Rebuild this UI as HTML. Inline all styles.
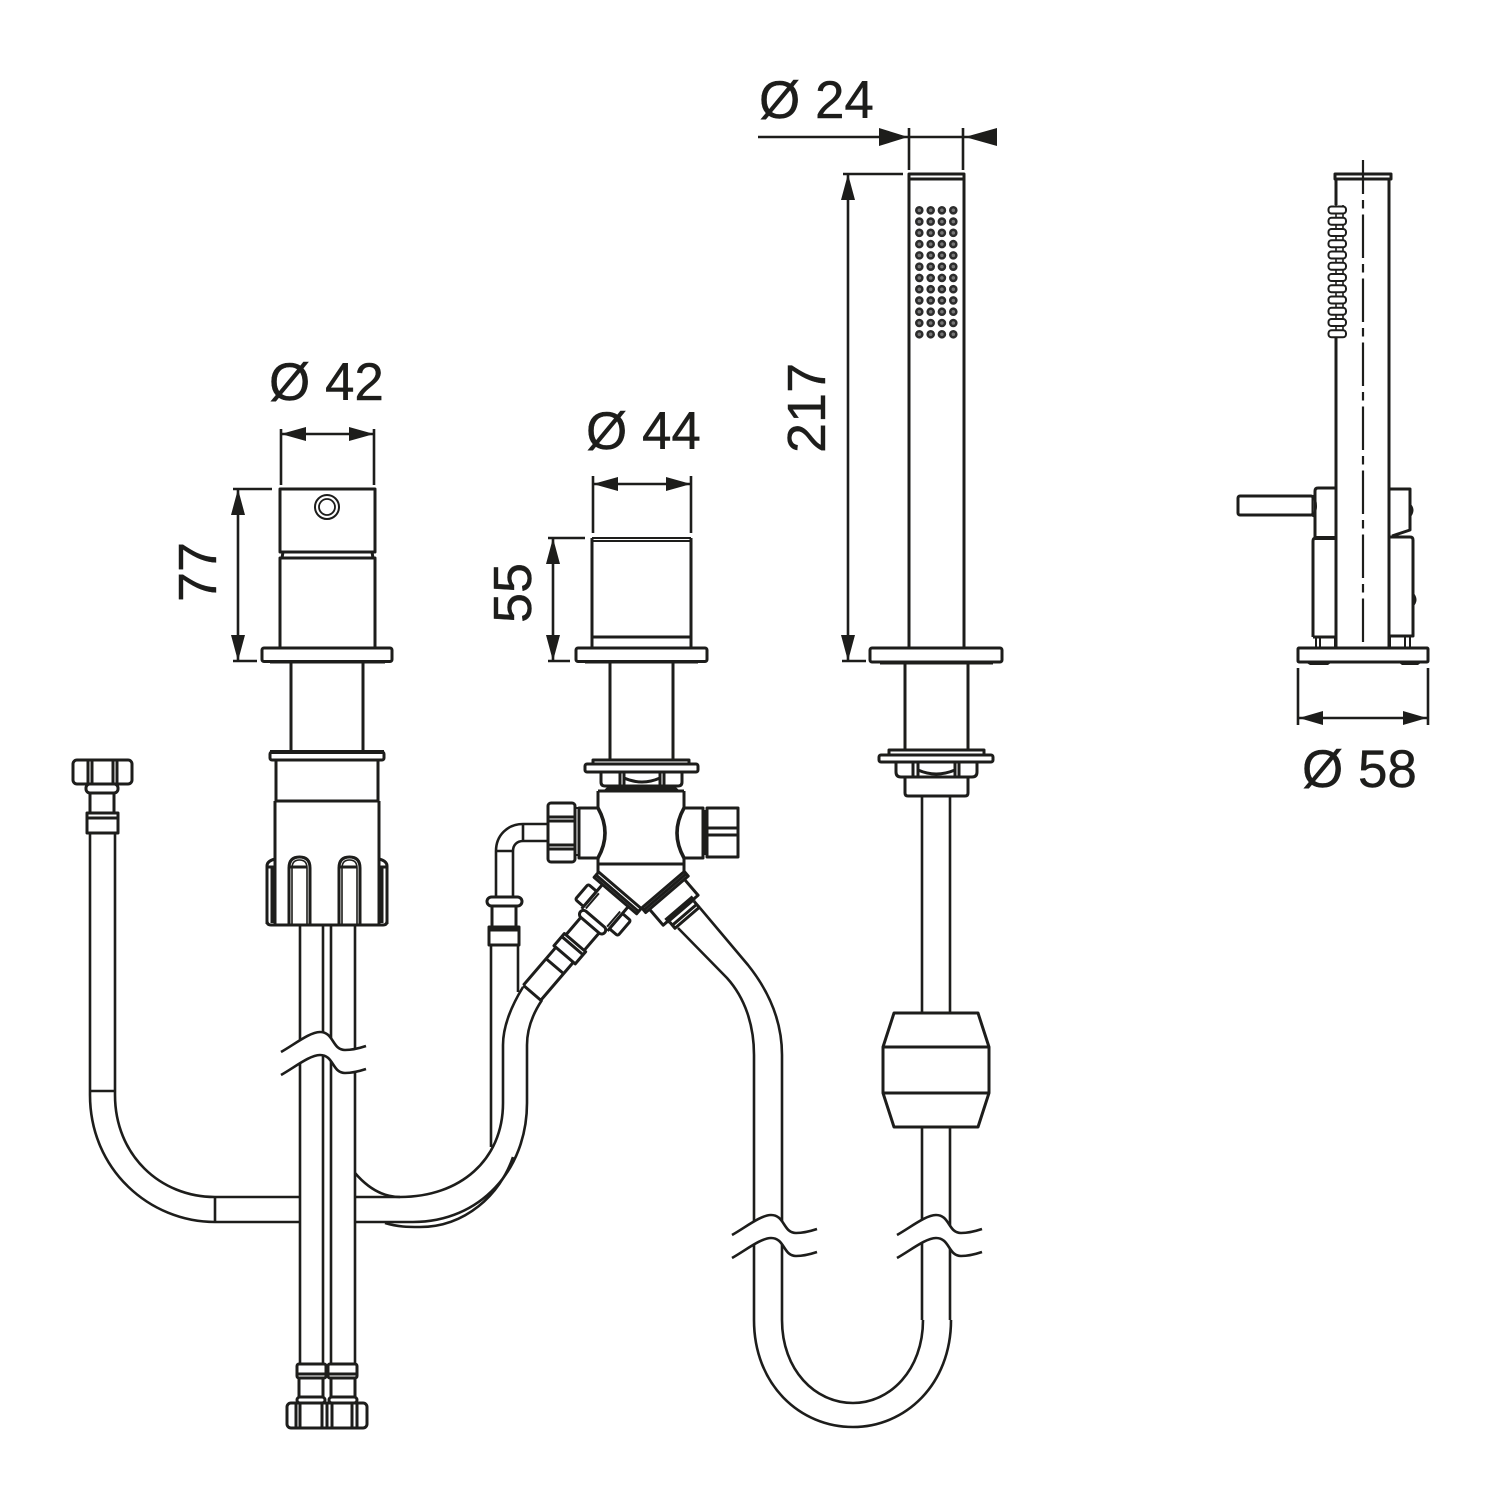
<!DOCTYPE html>
<html><head><meta charset="utf-8"><style>
html,body{margin:0;padding:0;background:#fff}
svg{display:block}
text{font-family:"Liberation Sans",sans-serif;font-size:53px;fill:#1d1d1b;stroke:#1d1d1b;stroke-width:.4}
.l{fill:none;stroke:#1d1d1b;stroke-width:2.6;stroke-linejoin:round}
.w{fill:#fff;stroke:#1d1d1b;stroke-width:2.3;stroke-linejoin:round}
.t{fill:none;stroke:#1d1d1b;stroke-width:3;stroke-linejoin:round}
.k{fill:#1d1d1b;stroke:none}
</style></head><body>
<svg width="1500" height="1500" viewBox="0 0 1500 1500" xmlns="http://www.w3.org/2000/svg">
<rect width="1500" height="1500" fill="#fff"/>
<text x="269" y="400">Ø 42</text>
<text x="586" y="449">Ø 44</text>
<text x="759" y="118">Ø 24</text>
<text x="1302" y="787">Ø 58</text>
<text transform="translate(216,602) rotate(-90)" style="font-size:54px">77</text>
<text transform="translate(531,623) rotate(-90)" style="font-size:54px">55</text>
<text transform="translate(825,453) rotate(-90)" style="font-size:54px">217</text>

<!-- dimension lines -->
<g class="l">
<path d="M281,429V485M374,429V485M281,434H374"/>
<path d="M233,489H272M233,661H257M238,489V661"/>
<path d="M593,476V533M691,476V533M593,484H691"/>
<path d="M548,538H585M548,661H570M553,538V661"/>
<path d="M758,137H997M909,128V170M963,128V170"/>
<path d="M843,174H903M842,661H866M848,174V661"/>
<path d="M1298,668V725M1428,668V725M1298,718H1428"/>
</g>
<g class="k">
<path d="M281,434L306,427V441ZM374,434L349,427V441Z"/>
<path d="M238,489L231,515H245ZM238,661L231,635H245Z"/>
<path d="M593,484L618,477V491ZM691,484L666,477V491Z"/>
<path d="M553,538L546,564H560ZM553,661L546,635H560Z"/>
<path d="M908,137L879,128V146ZM965,137L997,128V146Z"/>
<path d="M848,174L841,200H855ZM848,661L841,635H855Z"/>
<path d="M1299,718L1323,711V725ZM1427,718L1403,711V725Z"/>
</g>

<!-- LEFT HOSE -->
<g class="l">
<path d="M355,1173C367,1187 382,1197 400,1197"/>
<path d="M385,1223C398,1227 408,1227 420,1227C465,1227 500,1195 513,1157"/>
<path d="M491,945V1147"/>
<path d="M518,945V992"/>
<path d="M90,833V1095C90,1170 150,1222 215,1222H300"/>
<path d="M115,833V1095C115,1155 160,1197 215,1197H300"/>
<path d="M90,1091H115M215,1197V1222"/>
<path d="M355,1197H400C460,1197 503,1160 503,1103V1045C503,1025 512,1005 523,987"/>
<path d="M355,1222H413C480,1222 527,1170 527,1103V1045C527,1028 534,1012 542,1000"/>
</g>
<!-- left top fitting -->
<g class="t">
<rect x="73" y="760" width="59" height="24" rx="4"/>
<path d="M88,760V784M92,760V784M113,760V784M117,760V784"/>
<rect x="86" y="784" width="32" height="9" rx="4"/>
<path d="M90,793V813M114,793V813"/>
<rect x="87" y="813" width="31" height="20"/>
<path d="M87,818H118"/>
</g>

<!-- PIPES -->
<g class="l">
<path d="M300,925V1364M323,925V1364M331,925V1364M355,925V1364"/>
</g>
<g class="t">
<rect x="297" y="1364" width="29" height="14" rx="2"/>
<rect x="328" y="1364" width="29" height="14" rx="2"/>
<path d="M297,1374H326M328,1374H357"/>
<path d="M299,1378V1397M323,1378V1397M331,1378V1397M355,1378V1397"/>
<rect x="297" y="1397" width="28" height="6" rx="3"/>
<rect x="329" y="1397" width="28" height="6" rx="3"/>
<rect x="287" y="1403" width="80" height="25" rx="4"/>
<path d="M296,1403V1428M300,1403V1428M322,1403V1428M327,1403V1428M332,1403V1428M352,1403V1428M357,1403V1428"/>
</g>

<!-- LEFT VALVE -->
<g class="t">
<rect x="280" y="489" width="95" height="63"/>
<path d="M283,552L282,558M372,552L373,558"/>
<rect x="280" y="558" width="95" height="90"/>
<circle cx="327" cy="507" r="12" stroke-width="2"/>
<circle cx="327" cy="507" r="8" stroke-width="1.8"/>
<rect x="262" y="648" width="130" height="13.5" rx="2"/>
<path d="M270,662H385" />
<path d="M291,662V751M363,662V751"/>
<rect x="270" y="752" width="114" height="8" rx="2"/>
<path d="M270,752H384" stroke-width="4"/>
<path d="M276,760V801M378,760V801M276,801H378"/>
<path d="M275,801V924M379,801V924"/>
<path d="M267,924V866Q267,861 275,859M387,924V866Q387,861 379,859"/>
<path d="M267,867H275M379,867H387M272,867V923M382,867V923"/>
<path d="M267,921Q267,925 271,925H383Q387,925 387,921"/>
<path d="M289,924V868Q289,857 299.500,857Q310,857 310,868V924" />
<path d="M292,924V868Q292,860 299.500,860Q307,860 307,868V924" stroke-width="1.6"/>
<path d="M289,867H307"/>
<path d="M339,924V868Q339,857 349.500,857Q360,857 360,868V924"/>
<path d="M342,924V868Q342,860 349.500,860Q357,860 357,868V924" stroke-width="1.6"/>
<path d="M339,867H357"/>
</g>

<!-- CENTER VALVE -->
<g class="t">
<path d="M592,538H691M592,541H691" stroke-width="2"/>
<path d="M592,538V648M691,538V648M592,637H691"/>
<rect x="576" y="648" width="131" height="13.5" rx="2"/>
<path d="M585,662H698"/>
<path d="M610,662V760M673,662V760"/>
<rect x="593" y="760" width="96" height="4"/>
<rect x="585" y="764" width="113" height="8" rx="2"/>
<path d="M601,772V782Q601,786 605,786H678Q682,786 682,782V772"/>
<path d="M620,772V786M624,772V786M660,772V786M664,772V786"/>
<path d="M624,778Q642,786 660,778"/>
</g>
<path class="k" d="M603,792Q606,786 612,786H671Q677,786 680,792Z"/>
<g class="t">
<path d="M598,791H684M598,791V808M684,791V808M598,858V872M684,858V872M598,864H684"/>
<path d="M579,808H598Q612,833 598,858H579Z" fill="#fff"/>
<path d="M598,808Q612,833 598,858" stroke-width="3.6"/>
<path d="M703,808H684Q670,833 684,858H703Z"/>
<path d="M684,808Q670,833 684,858" stroke-width="3.6"/>
<path d="M575,808H579V855H575Z" stroke-width="2"/>
<rect x="548" y="803" width="27" height="59" rx="3"/>
<path d="M548,817H575M548,821H575M548,845H575M548,849H575"/>
<path d="M704,810V855"/>
<rect x="707" y="808" width="31" height="49"/>
<path d="M707,828H738M707,835H738"/>
</g>
<!-- elbow -->
<g class="l">
<path d="M548,824H523C508,824 496,835 496,851V897"/>
<path d="M548,841H523C517,841 513,845 513,851V897"/>
<path d="M523,824V841M496,851H513"/>
</g>
<g class="t">
<rect x="487" y="897" width="35" height="9" rx="4.500"/>
<path d="M492,906V927M516,906V927"/>
<rect x="489" y="927" width="30" height="18"/>
<path d="M489,930H519"/>
</g>
<!-- left branch -->
<g transform="translate(603,910) rotate(40.600)" class="t">
<path d="M-17,-19V13M17,-19V13"/>
<rect x="-28" y="-26" width="56" height="7"/>
<path d="M-28,-22H28"/>
<rect x="-28" y="-10" width="11" height="20" rx="2"/>
<rect x="17" y="-10" width="11" height="20" rx="2"/>
<path d="M-14,-10V10M14,-10V10" stroke-width="2"/>
<rect x="-16" y="12" width="32" height="8" rx="4"/>
<path d="M-12,20V43M12,20V43"/>
<rect x="-14" y="43" width="28" height="16"/>
<path d="M-14,47H14"/>
<path d="M-11.500,59V109M11.500,59V109M-11.500,74H11.500M-11.500,109H11.500"/>
</g>
<!-- right branch -->
<g transform="translate(665,892) rotate(-40.600)" class="t">
<rect x="-28" y="-3" width="56" height="6"/>
<path d="M-28,0H28"/>
<path d="M-23,3V24H23V3"/>
<rect x="-18" y="20" width="36" height="6" fill="#1d1d1b" stroke="none"/>
<path d="M-16,26V34H16V26M-16,30H16"/>
</g>
<g class="l">
<path d="M678,928L727,978C745,998 754,1025 754,1055V1320"/>
<path d="M700,908L748,965C768,990 782,1020 782,1055V1320"/>
<path d="M754,1320C754,1385 800,1427 853,1427C905,1427 951,1385 951,1320"/>
<path d="M782,1320C782,1370 815,1403 853,1403C890,1403 923,1370 923,1320"/>
</g>

<!-- HANDSET -->
<g class="t">
<rect x="909" y="174" width="55" height="5"/>
<path d="M909,179V648M964,179V648"/>
<rect x="870" y="648" width="132" height="14" rx="2"/>
<path d="M880,663H993"/>
<path d="M905,662V750M968,662V750"/>
<rect x="889" y="750" width="95" height="5"/>
<rect x="879" y="755" width="114" height="7" rx="2"/>
<path d="M896,762V772Q896,777 901,777H972Q977,777 977,772V762"/>
<path d="M913,762V777M918,762V777M955,762V777M959,762V777"/>
<path d="M918,770Q936,778 955,770"/>
<path d="M905,777V793Q905,796 908,796H965Q968,796 968,793V777"/>
</g>
<path d="M919.300,210.300V336M930.700,210.300V336M941.900,210.300V336M953.300,210.300V336" fill="none" stroke="#2c2c2c" stroke-width="8.600" stroke-linecap="round" stroke-dasharray="0 11.270"/>
<path d="M919.300,210.300V336M930.700,210.300V336M941.900,210.300V336M953.300,210.300V336" fill="none" stroke="#777" stroke-width="3.500" stroke-linecap="round" stroke-dasharray="0 11.270"/>
<g class="l">
<path d="M922,796V1013M950,796V1013M922,1127V1320M950,1127V1320"/>
</g>
<g class="t">
<path d="M894,1013H978L989,1047V1093L978,1127H894L883,1093V1047Z"/>
<path d="M883,1047H989M883,1093H989"/>
</g>

<!-- BREAK SQUIGGLES -->
<g transform="translate(281,1052)">
<path d="M0,0C14,-8 29,-20 39,-20C53,-20 51,-2 64,-2C72,-2 79,-4 85,-6L85,17C79,19 72,21 64,21C51,21 53,3 39,3C29,3 14,15 0,23Z" fill="#fff"/>
<path class="l" d="M0,0C14,-8 29,-20 39,-20C53,-20 51,-2 64,-2C72,-2 79,-4 85,-6M0,23C14,15 29,3 39,3C53,3 51,21 64,21C72,21 79,19 85,17"/>
</g>
<g transform="translate(732,1235)">
<path d="M0,0C14,-8 29,-20 39,-20C53,-20 51,-2 64,-2C72,-2 79,-4 85,-6L85,17C79,19 72,21 64,21C51,21 53,3 39,3C29,3 14,15 0,23Z" fill="#fff"/>
<path class="l" d="M0,0C14,-8 29,-20 39,-20C53,-20 51,-2 64,-2C72,-2 79,-4 85,-6M0,23C14,15 29,3 39,3C53,3 51,21 64,21C72,21 79,19 85,17"/>
</g>
<g transform="translate(897,1235)">
<path d="M0,0C14,-8 29,-20 39,-20C53,-20 51,-2 64,-2C72,-2 79,-4 85,-6L85,17C79,19 72,21 64,21C51,21 53,3 39,3C29,3 14,15 0,23Z" fill="#fff"/>
<path class="l" d="M0,0C14,-8 29,-20 39,-20C53,-20 51,-2 64,-2C72,-2 79,-4 85,-6M0,23C14,15 29,3 39,3C53,3 51,21 64,21C72,21 79,19 85,17"/>
</g>

<!-- SIDE VIEW -->
<g class="t">
<rect x="1335" y="174" width="56" height="5"/>
<path d="M1336,179V205M1336,338V647M1389,179V647"/>
<path d="M1336,205V338M1343,205V338" stroke-width="1.600"/>
</g>
<g class="w" style="stroke-width:2">
<rect x="1328.500" y="206.500" width="17.500" height="7" rx="3"/><rect x="1328.500" y="217.750" width="17.500" height="7" rx="3"/><rect x="1328.500" y="229" width="17.500" height="7" rx="3"/><rect x="1328.500" y="240.250" width="17.500" height="7" rx="3"/><rect x="1328.500" y="251.500" width="17.500" height="7" rx="3"/><rect x="1328.500" y="262.750" width="17.500" height="7" rx="3"/><rect x="1328.500" y="274" width="17.500" height="7" rx="3"/><rect x="1328.500" y="285.250" width="17.500" height="7" rx="3"/><rect x="1328.500" y="296.500" width="17.500" height="7" rx="3"/><rect x="1328.500" y="307.750" width="17.500" height="7" rx="3"/><rect x="1328.500" y="319" width="17.500" height="7" rx="3"/><rect x="1328.500" y="330.250" width="17.500" height="7" rx="3"/>
</g>
<path d="M1363,160V643" fill="none" stroke="#1d1d1b" stroke-width="2.200" stroke-dasharray="43.500 6 8.500 6" stroke-dashoffset="9.500"/>
<g class="t">
<rect x="1238" y="496" width="75" height="19" rx="2"/>
<path d="M1313,495Q1318,506 1313,517" fill="#555"/>
<path d="M1335,488H1318Q1315,488 1315,491V537"/>
<path d="M1313,637V541Q1313,538 1316,538H1335" />
<path d="M1315,538H1335" stroke-width="4"/>
<path d="M1313,637H1335"/>
<path d="M1316,637V647M1320,637V647M1335,637V647" stroke-width="2"/>
<path d="M1390,489H1410V530L1392,536"/>
<path d="M1389,537H1410Q1413,537 1413,540V636H1389"/>
<path d="M1405,636V647M1410,636V647M1390,636V647" stroke-width="2"/>
<rect x="1298" y="648" width="130" height="14" rx="1"/>
</g>
<g class="k">
<path d="M1410,503Q1417,510 1410,518Z"/>
<path d="M1413,592Q1420,600 1413,607Z"/>
<path d="M1305,662H1332L1328,665H1310Z"/>
<path d="M1398,662H1422L1418,665H1402Z"/>
</g>
</svg>
</body></html>
